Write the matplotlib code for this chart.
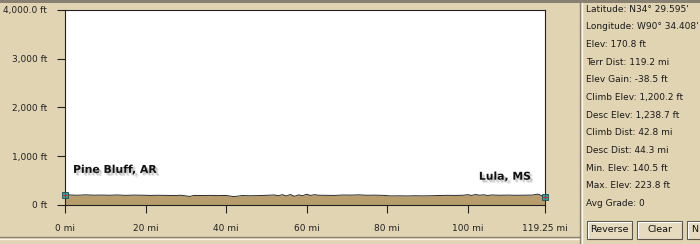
import matplotlib
matplotlib.use("Agg")
import matplotlib.pyplot as plt
import matplotlib.patheffects as pe
from matplotlib.patches import Rectangle

# elevation profile (miles, feet)
miles = [0, 1.5, 3, 5, 7, 9, 11, 13, 15, 17, 19, 21, 23, 25, 27, 29, 31, 32,
         34, 36, 38, 40, 42, 44, 46, 48, 50, 52, 53, 54, 55, 56, 57, 58, 59,
         60, 61, 62, 63, 65, 67, 69, 71, 73, 75, 77, 79, 81, 83, 85, 87, 89,
         91, 93, 95, 97, 99, 100, 101, 102, 103, 104, 105, 106, 108, 110, 112,
         114, 116, 117.5, 118.5, 119.25]
elev = [215, 205, 200, 208, 202, 204, 200, 206, 198, 203, 201, 196, 199, 197,
        195, 199, 175, 196, 194, 197, 193, 196, 172, 194, 190, 193, 198, 206,
        190, 212, 185, 215, 178, 208, 190, 220, 196, 212, 200, 198, 196, 205,
        203, 208, 200, 202, 198, 186, 188, 186, 190, 187, 190, 195, 198, 196,
        200, 212, 196, 215, 200, 210, 195, 206, 200, 203, 199, 201, 203, 223,
        190, 170.8]

y_ticks = [0, 1000, 2000, 3000, 4000]
y_labels = ["0 ft", "1,000 ft", "2,000 ft", "3,000 ft", "4,000.0 ft"]
x_ticks = [0, 20, 40, 60, 80, 100, 119.25]
x_labels = ["0 mi", "20 mi", "40 mi", "60 mi", "80 mi", "100 mi", "119.25 mi"]

stats = ["Latitude: N34\u00b0 29.595'", "Longitude: W90\u00b0 34.408'",
         "Elev: 170.8 ft", "Terr Dist: 119.2 mi", "Elev Gain: -38.5 ft",
         "Climb Elev: 1,200.2 ft", "Desc Elev: 1,238.7 ft",
         "Climb Dist: 42.8 mi", "Desc Dist: 44.3 mi", "Min. Elev: 140.5 ft",
         "Max. Elev: 223.8 ft", "Avg Grade: 0"]
buttons = ["Reverse", "Clear", "N"]
places = [("Pine Bluff, AR", 2.0, 720, "left"), ("Lula, MS", 115.8, 580, "right")]

BG = "#e0d4b3"
TERRAIN = "#b89d6c"
W, H = 700, 244

fig = plt.figure(figsize=(W / 100, H / 100), dpi=100)
fig.patch.set_facecolor(BG)

# overlay in pixel coordinates for the panel chrome
ov = fig.add_axes([0, 0, 1, 1])
ov.set_xlim(0, W)
ov.set_ylim(H, 0)
ov.axis("off")
ov.add_patch(Rectangle((0, 0), W, 3, color="#888070", lw=0))
ov.plot([0, 580], [237, 237], color="#8c8470", lw=1)
ov.plot([0, 580], [239, 239], color="#fbf6e8", lw=1)
ov.plot([580, 580], [3, 244], color="#8c8470", lw=1)
ov.plot([582, 582], [3, 244], color="#fbf6e8", lw=1)

for i, s in enumerate(stats):
    ov.text(586, 9 + i * 17.7, s, fontsize=6.5, va="center", ha="left",
            color="#1a1a1a")

for i, b in enumerate(buttons):
    x0 = 587 + i * 50
    ov.add_patch(Rectangle((x0, 221), 45, 18, facecolor="#e6dbbf",
                           edgecolor="#5a5548", lw=0.8))
    ov.plot([x0 + 1, x0 + 1, x0 + 44], [238, 222, 222], color="white", lw=0.8)
    if x0 + 45 <= W:
        ov.text(x0 + 22.5, 230, b, fontsize=6.8, ha="center", va="center",
                color="#111111")
    else:
        ov.text(x0 + 4, 230, b, fontsize=6.8, ha="left", va="center",
                color="#111111")

# main profile axes
ax = fig.add_axes([65 / W, (H - 205) / H, 480 / W, 195 / H])
ax.set_facecolor("white")
ax.fill_between(miles, 0, elev, color=TERRAIN, lw=0)
ax.plot(miles, elev, color="#2a2a2a", lw=0.7)
ax.set_xlim(0, 119.25)
ax.set_ylim(0, 4000)
ax.set_xticks(x_ticks)
ax.set_xticklabels(x_labels)
ax.set_yticks(y_ticks)
ax.set_yticklabels(y_labels)
ax.tick_params(direction="out", length=6, width=0.8, labelsize=6.5,
               colors="#222222", pad=8)
ax.tick_params(axis="y", pad=7)
for side in ["left", "bottom", "top", "right"]:
    ax.spines[side].set_color("#222222")
    ax.spines[side].set_linewidth(0.8)

# soft drop shadow behind the place names
shadow = [pe.SimplePatchShadow(offset=(2.2, -2.2), shadow_rgbFace="#888888",
                               alpha=0.25),
          pe.SimplePatchShadow(offset=(1.4, -1.4), shadow_rgbFace="#888888",
                               alpha=0.35),
          pe.Normal()]
for name, x, y, ha in places:
    ax.text(x, y, name, fontsize=7.8, fontweight="bold", ha=ha, va="center",
            color="#111111", path_effects=shadow)

for x, y in [(miles[0], elev[0]), (miles[-1], elev[-1])]:
    ax.plot(x, y, marker="s", ms=5, mfc="#3a9c9c", mec="#1c4c50", mew=0.6,
            clip_on=False, zorder=5)
    ax.plot(x, y, marker="+", ms=3, color="#e02020", mew=0.8, clip_on=False,
            zorder=6)

fig.savefig("out.png", dpi=100, facecolor=BG)
